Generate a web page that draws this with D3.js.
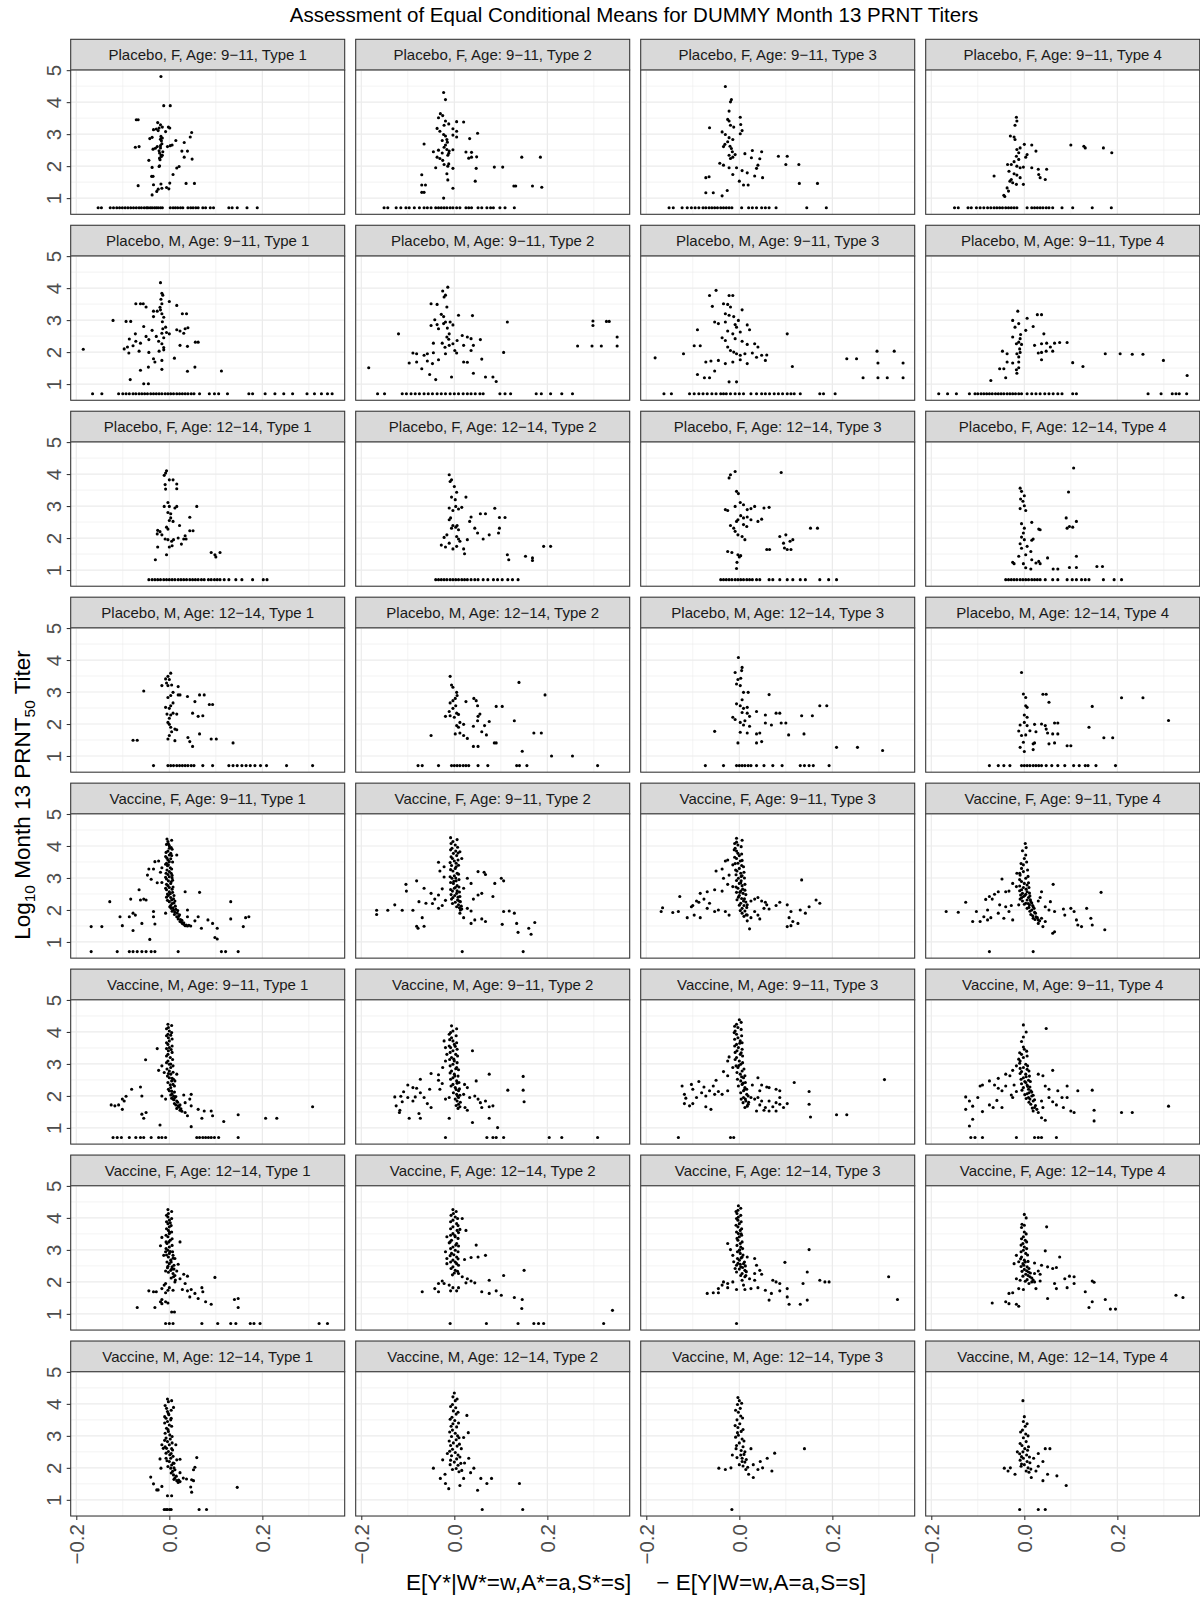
<!DOCTYPE html>
<html><head><meta charset="utf-8">
<script src="https://cdn.jsdelivr.net/npm/d3@7"></script>
<style>body{margin:0;background:#fff} text{font-family:"Liberation Sans",Arial,Helvetica,sans-serif}</style>
</head><body><svg id="chart" width="1200" height="1598"></svg>
<script>
const titleText = "Assessment of Equal Conditional Means for DUMMY Month 13 PRNT Titers";
const xTitleText = "E[Y*|W*=w,A*=a,S*=s]    \u2212 E[Y|W=w,A=a,S=s]";
const groupLabels = ["Placebo, F, Age: 9\u221211","Placebo, M, Age: 9\u221211","Placebo, F, Age: 12\u221214","Placebo, M, Age: 12\u221214","Vaccine, F, Age: 9\u221211","Vaccine, M, Age: 9\u221211","Vaccine, F, Age: 12\u221214","Vaccine, M, Age: 12\u221214"];
const typeLabels = ["Type 1","Type 2","Type 3","Type 4"];
const xTicks = [-0.2, 0, 0.2];
const xMinor = [-0.1, 0.1, 0.3];
const yTicks = [1, 2, 3, 4, 5];
const yMinor = [1.5, 2.5, 3.5, 4.5];
const lloq = 0.699;
const xDomain = [-0.212, 0.377];
const yDomain = [0.494, 5.005];

// ---- Row 1: Placebo, F, 9-11 ----
const r1c1 = [[-0.018,4.80],[-0.012,3.89],[0.002,3.89],[-0.071,3.45],[-0.067,3.45],[-0.025,3.36],[-0.019,3.29],[-0.015,3.22],[-0.022,3.19],[-0.028,3.16],[-0.034,3.14],[-0.024,3.11],[-0.008,3.08],[0.001,3.19],[-0.002,3.22],[-0.042,2.86],[-0.037,2.90],[-0.018,2.93],[-0.019,2.84],[-0.015,2.88],[-0.017,2.79],[0.048,3.05],[0.045,2.91],[0.014,2.80],[0.032,2.74],[-0.073,2.59],[-0.065,2.61],[-0.035,2.53],[-0.030,2.56],[-0.026,2.61],[-0.019,2.64],[-0.022,2.48],[-0.004,2.61],[0.002,2.64],[0.006,2.66],[-0.021,2.41],[-0.018,2.35],[-0.017,2.30],[-0.021,2.25],[-0.015,2.34],[0.027,2.47],[0.039,2.47],[0.032,2.28],[0.049,2.22],[-0.044,2.18],[-0.037,1.96],[-0.021,2.01],[-0.022,1.99],[0.016,1.94],[0.021,1.99],[0.008,1.74],[-0.038,1.68],[-0.035,1.68],[-0.067,1.39],[-0.034,1.42],[-0.018,1.44],[0.001,1.47],[0.036,1.46],[0.054,1.46],[-0.016,1.31],[-0.024,1.28],[-0.027,1.21],[-0.037,1.10],[-0.006,1.33],[-0.001,1.29],[-0.016,2.70],[-0.019,2.57],[-0.014,2.45],[-0.020,2.20]];
const r1c1Lloq = [-0.153,-0.146,-0.127,-0.120,-0.113,-0.107,-0.101,-0.095,-0.089,-0.083,-0.077,-0.071,-0.065,-0.060,-0.054,-0.049,-0.046,-0.041,-0.037,-0.032,-0.028,-0.024,-0.019,-0.015,0.002,0.008,0.013,0.018,0.024,0.029,0.040,0.046,0.051,0.057,0.062,0.072,0.078,0.088,0.095,0.128,0.135,0.146,0.167,0.189];
const r1c2 = [[-0.023,4.30],[-0.019,4.08],[-0.030,3.64],[-0.025,3.58],[-0.034,3.51],[0.005,3.39],[0.020,3.38],[-0.019,3.41],[-0.022,3.28],[-0.012,3.32],[-0.037,3.18],[-0.031,3.09],[-0.003,3.17],[0.005,3.09],[0.050,3.03],[0.033,2.86],[-0.023,2.99],[-0.019,2.94],[-0.026,2.80],[-0.016,2.83],[-0.003,2.97],[0.005,2.91],[-0.065,2.69],[-0.019,2.66],[-0.022,2.59],[-0.016,2.52],[-0.034,2.50],[-0.011,2.47],[-0.003,2.51],[-0.045,2.45],[-0.026,2.41],[-0.014,2.34],[-0.037,2.28],[-0.031,2.24],[-0.025,2.18],[0.025,2.44],[0.037,2.43],[0.037,2.28],[0.031,2.25],[0.048,2.29],[0.145,2.28],[0.185,2.28],[-0.040,1.95],[-0.022,2.05],[-0.012,2.07],[-0.003,1.93],[-0.014,2.00],[0.047,1.93],[0.086,1.97],[0.104,1.97],[-0.070,1.73],[-0.016,1.76],[-0.070,1.41],[-0.062,1.41],[0.045,1.53],[-0.014,1.57],[-0.003,1.31],[0.128,1.38],[0.132,1.38],[0.168,1.38],[0.188,1.34],[-0.070,1.18],[-0.065,1.18],[-0.023,1.00],[-0.015,2.75],[-0.012,2.40]];
const r1c2Lloq = [-0.151,-0.143,-0.125,-0.115,-0.104,-0.097,-0.086,-0.075,-0.065,-0.058,-0.050,-0.040,-0.034,-0.028,-0.022,-0.016,-0.009,-0.003,0.005,0.012,0.025,0.031,0.037,0.051,0.059,0.070,0.078,0.084,0.098,0.109,0.129];
const r1c3 = [[-0.030,4.49],[-0.017,4.08],[-0.019,4.01],[-0.022,3.72],[-0.025,3.46],[-0.022,3.41],[0.002,3.53],[-0.064,3.20],[-0.019,3.28],[-0.012,3.22],[-0.037,3.07],[-0.030,2.99],[-0.022,2.89],[-0.014,2.83],[-0.025,2.76],[-0.031,2.68],[-0.034,2.61],[0.003,3.30],[0.006,3.11],[0.002,3.01],[-0.022,2.34],[-0.014,2.28],[-0.019,2.24],[-0.009,2.36],[0.028,2.49],[0.048,2.45],[0.012,2.39],[0.026,2.26],[0.044,2.23],[0.084,2.31],[0.103,2.31],[0.100,2.05],[0.128,2.05],[-0.042,2.09],[-0.034,2.03],[-0.022,1.95],[-0.006,1.95],[0.006,1.86],[0.017,1.79],[-0.014,1.74],[0.037,1.93],[0.040,2.03],[0.033,1.69],[0.050,1.64],[-0.072,1.64],[-0.065,1.67],[0.000,1.53],[0.009,1.41],[0.019,1.41],[0.129,1.46],[0.168,1.46],[-0.072,1.17],[-0.056,1.17],[-0.037,1.07],[-0.026,1.24],[-0.017,2.55],[-0.020,2.62],[-0.015,2.45]];
const r1c3Lloq = [-0.151,-0.142,-0.123,-0.112,-0.103,-0.095,-0.087,-0.078,-0.072,-0.065,-0.059,-0.053,-0.047,-0.040,-0.034,-0.028,-0.022,-0.016,0.005,0.020,0.028,0.037,0.048,0.056,0.064,0.079,0.145,0.187];
const r1c4 = [[-0.017,3.53],[-0.016,3.41],[-0.020,3.28],[-0.030,2.94],[-0.022,2.91],[-0.020,2.83],[0.000,2.68],[-0.009,2.57],[-0.016,2.52],[-0.012,2.42],[-0.017,2.31],[-0.012,2.21],[-0.022,2.14],[-0.028,2.05],[-0.016,2.00],[-0.009,1.95],[-0.002,1.97],[0.016,2.66],[0.025,2.47],[0.006,2.36],[0.003,2.28],[0.100,2.66],[0.128,2.62],[0.131,2.57],[0.170,2.57],[0.188,2.42],[-0.036,2.05],[-0.033,1.84],[-0.022,1.76],[-0.016,1.72],[-0.009,1.64],[-0.028,1.58],[-0.017,1.43],[-0.002,1.43],[0.016,1.95],[0.030,1.90],[0.048,1.90],[0.031,1.74],[0.034,1.64],[0.045,1.58],[-0.065,1.69],[-0.031,1.53],[-0.025,1.48],[-0.037,1.32],[-0.034,1.22],[-0.044,1.09],[-0.042,1.05]];
const r1c4Lloq = [-0.150,-0.142,-0.121,-0.114,-0.103,-0.095,-0.087,-0.079,-0.072,-0.065,-0.059,-0.053,-0.047,-0.040,-0.034,-0.028,-0.022,-0.016,0.006,0.016,0.022,0.028,0.034,0.040,0.047,0.053,0.061,0.081,0.104,0.146,0.187];

// ---- Row 2: Placebo, M, 9-11 ----
const r2c1 = [[-0.019,4.17],[-0.016,3.84],[-0.014,3.78],[-0.072,3.51],[-0.062,3.51],[-0.056,3.51],[-0.050,3.41],[-0.016,3.51],[0.000,3.58],[0.016,3.46],[-0.019,3.32],[-0.034,3.28],[-0.026,3.28],[-0.016,3.20],[-0.012,3.09],[-0.034,3.11],[0.028,3.20],[0.037,3.20],[-0.121,2.99],[-0.093,2.96],[-0.083,2.96],[-0.055,2.80],[-0.037,2.68],[-0.073,2.57],[-0.050,2.49],[-0.028,2.49],[-0.016,2.59],[-0.014,2.73],[-0.008,2.78],[0.016,2.70],[0.023,2.66],[0.034,2.73],[0.040,2.76],[0.031,2.59],[0.000,2.57],[-0.006,2.61],[-0.086,2.41],[-0.072,2.34],[-0.062,2.28],[-0.097,2.10],[-0.090,2.16],[-0.078,2.20],[-0.044,2.39],[-0.023,2.34],[-0.016,2.26],[-0.012,2.14],[-0.012,2.07],[0.039,2.18],[0.062,2.31],[0.056,2.31],[0.023,2.21],[-0.185,2.09],[-0.087,1.97],[-0.065,2.03],[-0.044,1.99],[-0.022,2.03],[-0.034,1.79],[-0.031,1.69],[-0.016,1.74],[0.011,1.81],[-0.062,1.43],[-0.045,1.53],[-0.016,1.46],[0.039,1.40],[0.055,1.53],[0.112,1.41],[-0.084,1.14],[-0.055,1.01],[-0.045,1.01],[-0.018,3.65],[-0.015,2.95],[-0.012,2.45],[-0.020,3.40]];
const r2c1Lloq = [-0.165,-0.145,-0.109,-0.100,-0.093,-0.086,-0.078,-0.072,-0.065,-0.059,-0.053,-0.047,-0.040,-0.034,-0.028,-0.022,-0.016,-0.009,-0.003,0.003,0.009,0.016,0.022,0.028,0.034,0.040,0.047,0.053,0.065,0.086,0.097,0.106,0.125,0.171,0.179,0.206,0.227,0.246,0.265,0.296,0.312,0.327,0.340,0.350];
const r2c2 = [[-0.014,4.03],[-0.025,3.91],[-0.019,3.78],[-0.022,3.72],[-0.050,3.51],[-0.037,3.49],[-0.016,3.41],[-0.028,3.18],[-0.023,3.11],[0.009,3.15],[0.039,3.14],[-0.042,3.01],[-0.050,2.83],[-0.037,2.86],[-0.023,2.89],[-0.019,2.94],[-0.034,2.73],[-0.009,2.94],[-0.003,2.85],[0.114,2.94],[0.298,2.97],[0.298,2.83],[0.327,2.96],[0.333,2.96],[-0.120,2.57],[-0.011,2.57],[-0.016,2.47],[0.017,2.52],[0.028,2.47],[0.036,2.42],[0.006,2.36],[0.056,2.39],[-0.045,2.28],[-0.026,2.28],[-0.011,2.21],[-0.003,2.26],[0.020,2.21],[0.041,2.21],[0.265,2.19],[0.296,2.19],[0.316,2.19],[0.350,2.19],[0.350,2.47],[-0.089,1.97],[-0.081,1.95],[-0.065,1.90],[-0.058,1.95],[-0.019,1.95],[0.005,1.97],[0.036,2.05],[0.106,1.99],[-0.097,1.66],[-0.081,1.69],[-0.070,1.48],[-0.058,1.72],[-0.047,1.64],[-0.034,1.76],[0.020,1.69],[0.028,1.68],[0.059,1.78],[-0.184,1.51],[-0.053,1.30],[-0.040,1.14],[-0.006,1.22],[0.041,1.34],[0.067,1.22],[0.083,1.22],[0.090,1.08],[-0.015,2.75],[-0.012,2.40],[0.001,2.05],[-0.020,2.15],[-0.045,1.98]];
const r2c2Lloq = [-0.165,-0.150,-0.112,-0.103,-0.093,-0.084,-0.075,-0.065,-0.056,-0.047,-0.037,-0.028,-0.019,-0.009,0.000,0.009,0.019,0.028,0.036,0.045,0.055,0.062,0.098,0.109,0.121,0.176,0.187,0.207,0.231,0.254];
const r2c3 = [[-0.050,3.93],[-0.064,3.77],[-0.022,3.77],[-0.014,3.77],[-0.034,3.51],[-0.025,3.49],[-0.058,3.43],[-0.019,3.41],[0.006,3.32],[-0.030,3.20],[-0.022,3.15],[-0.012,3.11],[-0.002,2.99],[-0.053,2.94],[-0.045,2.89],[-0.030,2.94],[-0.009,2.86],[0.017,2.85],[-0.006,2.78],[-0.090,2.70],[-0.025,2.66],[-0.014,2.57],[0.002,2.63],[0.022,2.70],[0.103,2.57],[-0.037,2.45],[-0.030,2.36],[-0.009,2.42],[0.006,2.34],[0.017,2.24],[0.033,2.26],[0.040,2.16],[-0.097,2.20],[-0.084,2.20],[-0.025,2.16],[-0.019,2.05],[-0.012,2.00],[-0.006,1.95],[0.002,1.90],[0.012,1.95],[0.028,1.97],[0.037,1.84],[0.048,1.90],[0.059,1.91],[-0.120,1.95],[-0.181,1.82],[-0.072,1.69],[-0.061,1.72],[-0.045,1.74],[-0.030,1.64],[-0.014,1.69],[0.002,1.76],[0.017,1.64],[0.056,1.74],[0.231,1.79],[0.252,1.79],[0.296,2.03],[0.333,2.03],[0.298,1.66],[0.352,1.66],[0.114,1.55],[-0.053,1.41],[-0.090,1.30],[-0.075,1.20],[-0.064,1.20],[-0.022,1.07],[-0.006,1.07],[0.266,1.20],[0.298,1.20],[0.318,1.20],[0.352,1.20]];
const r2c3Lloq = [-0.162,-0.146,-0.107,-0.097,-0.087,-0.078,-0.069,-0.059,-0.050,-0.040,-0.034,-0.028,-0.019,-0.009,0.000,0.009,0.025,0.037,0.048,0.056,0.065,0.075,0.084,0.093,0.103,0.111,0.118,0.131,0.173,0.181,0.206];
const r2c4 = [[-0.014,3.28],[0.028,3.17],[0.037,3.17],[0.006,3.06],[-0.025,2.99],[-0.012,2.89],[-0.020,2.78],[0.019,2.80],[0.003,2.68],[0.042,2.57],[-0.025,2.47],[-0.009,2.42],[-0.012,2.31],[-0.017,2.26],[-0.006,2.24],[0.022,2.21],[0.037,2.26],[0.048,2.28],[0.065,2.28],[0.076,2.30],[0.092,2.30],[0.056,2.16],[0.047,2.03],[0.030,1.97],[0.037,1.99],[0.061,2.03],[-0.047,2.03],[-0.037,1.95],[-0.016,1.95],[-0.009,1.99],[0.174,1.95],[0.206,1.95],[0.232,1.93],[0.255,1.93],[0.299,1.74],[0.037,1.76],[-0.037,1.69],[-0.025,1.66],[-0.012,1.69],[0.104,1.67],[0.126,1.55],[-0.053,1.48],[-0.044,1.48],[-0.017,1.45],[-0.016,1.34],[-0.012,1.51],[-0.040,1.20],[-0.072,1.11],[0.350,1.27],[-0.010,2.10],[-0.012,1.85],[-0.008,2.55]];
const r2c4Lloq = [-0.184,-0.165,-0.146,-0.118,-0.106,-0.100,-0.093,-0.087,-0.081,-0.075,-0.069,-0.062,-0.056,-0.050,-0.044,-0.037,-0.031,-0.025,-0.019,-0.012,-0.006,0.006,0.016,0.025,0.034,0.044,0.053,0.062,0.072,0.081,0.104,0.112,0.266,0.294,0.318,0.326,0.333,0.349];

// ---- Row 3: Placebo, F, 12-14 ----
const r3c1 = [[-0.006,4.10],[-0.008,4.03],[-0.011,3.96],[0.000,3.82],[0.008,3.82],[-0.009,3.67],[-0.008,3.53],[0.016,3.69],[0.016,3.54],[-0.003,3.11],[-0.011,2.99],[0.000,2.99],[0.012,2.94],[0.016,2.99],[0.059,2.99],[-0.003,2.80],[0.003,2.76],[0.003,2.63],[0.000,2.55],[0.008,2.52],[0.044,2.65],[0.022,2.39],[-0.006,2.34],[-0.003,2.28],[-0.025,2.24],[-0.020,2.20],[-0.026,2.13],[-0.016,2.10],[0.034,2.07],[0.044,2.23],[0.051,2.23],[-0.009,1.97],[-0.003,1.95],[0.009,1.95],[0.019,2.00],[0.031,1.97],[0.036,1.97],[0.005,1.90],[0.026,1.81],[-0.025,1.72],[0.000,1.72],[0.006,1.76],[-0.006,1.48],[-0.030,1.32],[0.090,1.55],[0.098,1.48],[0.109,1.55],[0.100,1.41]];
const r3c1Lloq = [-0.044,-0.037,-0.031,-0.025,-0.019,-0.012,-0.006,0.000,0.006,0.012,0.019,0.025,0.031,0.037,0.044,0.050,0.056,0.062,0.069,0.075,0.084,0.090,0.097,0.103,0.109,0.118,0.128,0.143,0.156,0.179,0.202,0.210];
const r3c2 = [[-0.011,3.98],[-0.006,3.82],[-0.009,3.77],[0.000,3.61],[0.005,3.43],[-0.006,3.28],[0.002,3.20],[0.025,3.28],[-0.011,2.94],[-0.003,2.86],[0.003,2.99],[0.009,2.91],[0.016,2.96],[0.056,2.76],[0.067,2.76],[0.087,2.93],[0.097,2.64],[0.109,2.64],[-0.008,2.63],[-0.011,2.57],[-0.003,2.39],[0.003,2.34],[-0.006,2.31],[0.009,2.26],[0.006,2.39],[0.036,2.66],[0.033,2.52],[0.044,2.31],[0.050,2.16],[0.062,1.97],[0.097,2.31],[0.095,2.16],[0.075,2.10],[0.028,1.95],[-0.022,2.02],[-0.016,2.10],[0.005,2.05],[0.009,1.97],[0.012,1.90],[-0.011,1.84],[-0.028,1.78],[-0.019,1.72],[-0.003,1.66],[0.005,1.74],[0.020,1.66],[0.022,1.51],[0.114,1.48],[0.117,1.32],[0.153,1.43],[0.168,1.38],[0.168,1.30],[0.192,1.74],[0.207,1.74]];
const r3c2Lloq = [-0.040,-0.034,-0.028,-0.022,-0.016,-0.009,-0.003,0.003,0.009,0.016,0.022,0.028,0.036,0.044,0.051,0.062,0.072,0.084,0.093,0.103,0.115,0.125,0.137];
const r3c3 = [[-0.009,4.08],[-0.019,3.98],[-0.022,3.88],[0.090,4.05],[-0.006,3.46],[-0.002,3.39],[0.002,3.11],[0.009,3.04],[-0.009,2.99],[-0.030,2.89],[-0.025,2.86],[0.017,2.89],[0.025,2.92],[0.053,2.94],[0.064,2.96],[0.033,2.99],[0.003,2.70],[0.009,2.63],[0.017,2.66],[-0.003,2.57],[-0.006,2.52],[0.025,2.57],[0.040,2.52],[0.048,2.59],[-0.019,2.39],[-0.012,2.31],[0.009,2.42],[0.016,2.36],[-0.009,2.21],[-0.003,2.10],[0.006,2.05],[0.012,1.95],[0.153,2.31],[0.168,2.31],[0.087,2.05],[0.100,2.10],[0.095,1.84],[0.109,1.90],[0.115,1.95],[0.097,1.69],[0.103,1.64],[0.111,1.64],[0.059,1.64],[0.065,1.64],[-0.025,1.58],[-0.016,1.55],[-0.003,1.48],[0.000,1.41],[0.003,1.45],[-0.005,1.24],[-0.006,1.05]];
const r3c3Lloq = [-0.040,-0.034,-0.028,-0.022,-0.016,-0.009,-0.003,0.003,0.009,0.016,0.022,0.028,0.037,0.044,0.064,0.072,0.087,0.103,0.115,0.131,0.142,0.173,0.192,0.209];
const r3c4 = [[0.106,4.19],[-0.009,3.56],[-0.006,3.46],[0.000,3.32],[-0.008,3.22],[-0.003,3.15],[0.095,3.44],[0.000,3.01],[-0.009,2.92],[0.003,2.86],[0.090,2.63],[0.097,2.36],[0.104,2.34],[0.112,2.52],[0.092,2.31],[-0.006,2.45],[0.000,2.31],[0.016,2.49],[0.031,2.28],[0.034,2.26],[-0.002,2.16],[-0.006,2.03],[0.000,1.95],[0.016,1.93],[0.019,1.97],[-0.009,1.82],[-0.006,1.68],[0.006,1.74],[0.014,1.58],[0.003,1.48],[-0.012,1.43],[0.112,1.43],[-0.025,1.24],[-0.022,1.20],[-0.002,1.20],[0.016,1.32],[0.025,1.22],[0.031,1.27],[0.034,1.20],[0.050,1.38],[0.062,1.03],[0.072,1.03],[0.097,1.08],[0.112,1.08],[0.156,1.11],[0.168,1.11],[0.003,1.07],[0.014,1.03]];
const r3c4Lloq = [-0.040,-0.034,-0.028,-0.022,-0.016,-0.009,-0.003,0.003,0.009,0.016,0.022,0.028,0.034,0.045,0.061,0.072,0.092,0.103,0.112,0.123,0.131,0.139,0.170,0.193,0.209];

// ---- Row 4: Placebo, M, 12-14 ----
const r4c1 = [[0.003,3.59],[-0.003,3.49],[-0.008,3.41],[0.000,3.39],[-0.006,3.28],[-0.003,3.20],[-0.016,3.20],[0.005,3.22],[0.019,3.17],[-0.055,3.03],[0.008,2.99],[0.003,2.89],[-0.003,2.83],[0.019,2.91],[0.023,2.91],[0.039,2.86],[0.065,2.91],[0.075,2.91],[0.055,2.70],[0.086,2.61],[0.093,2.61],[0.008,2.66],[0.003,2.57],[-0.008,2.52],[0.000,2.49],[-0.005,2.31],[0.003,2.28],[0.016,2.31],[0.008,2.34],[0.050,2.34],[0.062,2.24],[0.072,2.26],[0.000,2.18],[-0.003,2.05],[0.000,1.99],[0.003,1.90],[0.012,1.84],[0.016,1.82],[0.005,1.76],[0.000,1.64],[-0.078,1.49],[-0.069,1.49],[-0.003,1.53],[0.012,1.48],[0.040,1.58],[0.044,1.45],[0.065,1.69],[0.090,1.53],[0.101,1.53],[0.050,1.30],[0.137,1.41]];
const r4c1Lloq = [-0.034,-0.003,0.003,0.009,0.016,0.022,0.028,0.034,0.040,0.047,0.053,0.072,0.093,0.128,0.137,0.146,0.156,0.165,0.174,0.184,0.196,0.209,0.252,0.308];
const r4c2 = [[-0.009,3.49],[0.139,3.30],[-0.006,3.22],[-0.003,3.15],[0.005,2.99],[0.006,2.89],[0.002,2.80],[-0.003,2.73],[-0.009,2.66],[0.003,2.57],[0.042,2.80],[0.047,2.73],[0.050,2.57],[0.025,2.70],[0.090,2.55],[0.103,2.55],[0.195,2.91],[-0.003,2.49],[-0.011,2.39],[0.005,2.34],[0.009,2.30],[-0.019,2.24],[-0.009,2.26],[0.000,2.21],[0.055,2.31],[0.051,2.24],[0.012,2.05],[0.020,1.99],[0.005,1.95],[0.009,1.90],[0.041,1.93],[0.065,1.95],[0.075,2.08],[0.050,2.10],[0.129,2.10],[-0.050,1.64],[0.002,1.69],[0.012,1.72],[0.020,1.64],[0.059,1.76],[0.069,1.66],[0.028,1.55],[0.171,1.72],[0.187,1.72],[0.041,1.30],[0.051,1.30],[0.086,1.41],[0.090,1.41],[0.146,1.15],[0.209,1.00],[0.254,1.00]];
const r4c2Lloq = [-0.078,-0.069,-0.034,-0.006,0.000,0.006,0.012,0.019,0.025,0.031,0.051,0.072,0.134,0.140,0.156,0.308];
const r4c3 = [[-0.002,4.08],[-0.009,3.61],[0.005,3.67],[0.006,3.77],[-0.003,3.39],[0.003,3.43],[-0.006,3.25],[0.002,3.20],[0.009,2.99],[0.019,2.99],[0.064,2.92],[0.006,2.76],[-0.006,2.63],[0.002,2.57],[0.009,2.49],[0.017,2.52],[0.037,2.39],[0.006,2.36],[0.017,2.34],[0.173,2.57],[0.188,2.57],[-0.014,2.21],[-0.009,2.14],[0.002,2.05],[0.012,2.10],[0.022,2.24],[0.056,2.28],[0.079,2.34],[0.087,2.34],[0.134,2.26],[0.157,2.26],[0.009,1.97],[0.022,1.93],[0.056,2.03],[0.069,1.97],[0.090,2.03],[0.100,2.03],[0.002,1.74],[0.017,1.72],[0.037,1.69],[0.044,1.72],[0.106,1.66],[0.139,1.69],[-0.053,1.77],[-0.003,1.41],[0.037,1.41],[0.048,1.45],[0.209,1.27],[0.254,1.27],[0.308,1.17]];
const r4c3Lloq = [-0.073,-0.034,-0.006,0.000,0.006,0.012,0.019,0.025,0.037,0.053,0.072,0.092,0.131,0.140,0.150,0.159,0.193];
const r4c4 = [[-0.006,3.61],[-0.002,2.94],[0.040,2.93],[0.047,2.93],[0.053,2.68],[0.003,2.83],[0.209,2.82],[0.255,2.82],[0.146,2.55],[0.310,2.11],[0.003,2.57],[0.006,2.52],[0.000,2.28],[0.006,2.21],[0.000,2.05],[-0.009,1.97],[0.006,1.95],[0.022,1.99],[0.037,2.00],[0.045,1.95],[0.065,2.03],[0.072,2.03],[-0.012,1.78],[-0.006,1.64],[0.003,1.66],[0.012,1.79],[0.025,1.76],[0.047,1.84],[0.050,1.72],[0.061,1.69],[0.072,1.69],[0.139,1.90],[0.171,1.57],[0.190,1.57],[-0.002,1.43],[0.019,1.38],[0.022,1.41],[0.053,1.38],[0.065,1.41],[0.092,1.32],[0.100,1.32],[-0.009,1.27],[0.000,1.14],[0.019,1.20]];
const r4c4Lloq = [-0.075,-0.056,-0.044,-0.031,-0.006,0.000,0.006,0.012,0.019,0.025,0.031,0.037,0.047,0.059,0.072,0.087,0.106,0.118,0.131,0.137,0.154,0.196];

// ---- Row 5: Vaccine, F, 9-11 ----
const r5c1 = [[-0.005,4.22],[-0.003,4.14],[-0.002,4.07],[0.000,4.01],[0.000,3.93],[-0.003,3.84],[0.003,3.77],[0.000,3.72],[-0.008,3.67],[-0.003,3.56],[0.000,3.51],[-0.006,3.46],[-0.002,3.41],[0.002,3.32],[-0.005,3.25],[0.000,3.20],[-0.003,3.11],[0.000,3.04],[-0.006,2.97],[-0.002,2.91],[0.003,2.83],[-0.003,2.76],[0.000,2.70],[-0.006,2.63],[0.000,2.57],[0.002,2.51],[-0.002,2.45],[0.003,2.39],[0.005,2.31],[0.000,2.26],[0.006,2.20],[0.003,2.14],[0.008,2.07],[0.009,2.00],[0.012,1.93],[0.011,1.86],[0.016,1.79],[0.019,1.72],[0.023,1.64],[0.031,1.55],[0.034,1.51],[0.039,1.50],[0.004,3.95],[0.003,3.60],[-0.004,3.38],[0.004,3.15],[0.006,3.00],[0.004,2.88],[0.006,2.65],[-0.004,2.50],[0.009,2.35],[0.010,2.22],[0.013,2.12],[0.004,2.05],[0.018,1.98],[0.022,1.85],[0.026,1.62],[0.028,1.58],[0.036,1.53],[0.042,1.52],[-0.031,3.51],[-0.023,3.53],[-0.034,3.28],[-0.044,3.28],[-0.016,3.32],[-0.019,3.18],[-0.047,3.09],[-0.026,2.85],[-0.039,2.96],[-0.016,2.86],[0.016,3.72],[0.034,2.57],[0.065,2.55],[-0.065,2.63],[-0.062,2.31],[-0.128,2.26],[-0.083,2.34],[-0.055,2.34],[-0.050,2.31],[-0.078,1.90],[-0.073,1.84],[-0.106,1.79],[-0.086,1.79],[-0.101,1.51],[-0.078,1.36],[-0.034,1.95],[-0.031,1.56],[-0.008,1.90],[0.039,2.00],[0.039,1.79],[0.055,1.66],[0.062,1.79],[0.069,1.43],[0.083,1.69],[0.093,1.58],[0.103,1.43],[0.132,2.26],[0.132,1.72],[0.159,1.48],[0.164,1.76],[0.171,1.79],[-0.168,1.48],[-0.145,1.48],[-0.042,1.08],[0.098,1.14],[0.103,1.09],[-0.034,1.79],[-0.059,1.58]];
const r5c1Band = [[0.005,4.18],[-0.006,4.05],[0.006,3.90],[-0.007,3.80],[0.005,3.70],[-0.005,3.62],[0.007,3.50],[-0.008,3.43],[0.005,3.28],[-0.007,3.15],[0.006,3.08],[-0.008,3.02],[0.007,2.93],[-0.006,2.80],[0.008,2.72],[-0.008,2.68],[0.007,2.55],[-0.006,2.40],[0.010,2.45],[-0.004,2.30],[0.012,2.28],[0.001,2.10],[0.014,2.02],[0.006,1.96],[0.017,1.90],[0.020,1.80],[0.024,1.70],[0.027,1.68],[0.031,1.60],[0.046,1.50]];
const r5c1Lloq = [-0.168,-0.112,-0.086,-0.078,-0.069,-0.059,-0.050,-0.039,-0.031,0.019,0.112,0.121,0.148];
const r5c2 = [[-0.008,4.26],[-0.003,4.14],[0.002,4.03],[-0.005,3.93],[0.003,3.84],[-0.002,3.77],[0.005,3.70],[-0.004,3.61],[0.000,3.53],[0.004,3.46],[-0.006,3.39],[0.002,3.30],[-0.003,3.22],[0.006,3.15],[0.000,3.07],[-0.005,2.99],[0.004,2.91],[-0.002,2.83],[0.006,2.76],[0.000,2.68],[-0.004,2.59],[0.005,2.52],[0.001,2.45],[-0.003,2.39],[0.007,2.31],[0.002,2.24],[0.009,2.16],[0.011,2.07],[0.013,2.00],[0.003,3.00],[0.006,2.60],[-0.001,2.90],[0.004,3.35],[0.008,2.40],[0.002,2.70],[0.010,2.28],[-0.034,3.49],[-0.022,3.35],[0.012,3.82],[0.016,3.61],[-0.031,3.22],[-0.022,3.03],[0.028,2.99],[0.036,2.83],[0.020,2.68],[0.087,2.83],[0.101,2.99],[0.106,2.91],[0.064,3.18],[-0.081,2.91],[-0.104,2.80],[-0.103,2.59],[-0.065,2.68],[-0.050,2.52],[-0.034,2.47],[-0.026,2.66],[-0.042,2.34],[-0.019,2.30],[-0.076,2.26],[-0.061,2.21],[-0.047,2.20],[-0.026,2.14],[-0.034,2.05],[-0.089,1.99],[-0.112,1.99],[-0.143,1.99],[-0.167,1.99],[-0.167,1.86],[-0.128,2.16],[-0.069,1.76],[-0.081,1.49],[-0.065,1.49],[-0.078,1.43],[0.028,2.05],[0.036,1.97],[0.012,1.90],[0.020,1.76],[0.041,2.34],[0.051,2.47],[0.059,2.52],[0.083,2.42],[0.044,1.69],[0.036,1.58],[0.059,1.72],[0.067,1.64],[0.106,1.95],[0.118,1.97],[0.129,1.90],[0.103,1.55],[0.134,1.58],[0.160,1.43],[0.173,1.61],[0.137,1.30],[0.165,1.24],[0.051,3.20],[0.067,3.11]];
const r5c2Band = [[0.006,4.20],[-0.007,4.08],[0.007,3.96],[-0.008,3.88],[0.008,3.78],[-0.007,3.66],[0.008,3.56],[-0.009,3.48],[0.009,3.40],[-0.008,3.26],[0.009,3.12],[-0.009,3.04],[0.010,2.95],[-0.008,2.86],[0.010,2.72],[-0.008,2.64],[0.011,2.56],[-0.007,2.48],[0.012,2.42],[-0.006,2.34],[0.013,2.26],[-0.004,2.20],[0.015,2.12],[0.005,2.10],[0.016,2.03]];
const r5c2Lloq = [0.017,0.148];
const r5c3 = [[-0.006,4.24],[-0.006,4.12],[-0.003,4.03],[-0.009,3.93],[-0.006,3.84],[-0.003,3.77],[0.000,3.70],[-0.006,3.61],[0.002,3.53],[-0.003,3.46],[0.005,3.39],[0.000,3.30],[-0.005,3.22],[0.003,3.15],[0.006,3.07],[-0.002,2.99],[0.004,2.91],[0.000,2.83],[0.006,2.76],[-0.003,2.68],[0.003,2.59],[0.008,2.52],[0.000,2.45],[0.005,2.36],[0.009,2.28],[0.003,2.21],[0.010,2.14],[0.006,2.05],[0.012,1.97],[0.006,1.90],[0.003,2.85],[0.007,2.65],[0.001,2.55],[-0.002,2.40],[0.011,2.35],[0.004,3.05],[-0.030,3.53],[-0.025,3.56],[-0.014,3.41],[-0.037,3.28],[-0.050,3.22],[-0.022,3.09],[-0.034,2.99],[0.134,2.94],[-0.025,2.80],[-0.014,2.73],[-0.053,2.63],[-0.037,2.59],[-0.069,2.57],[-0.084,2.52],[-0.076,2.34],[-0.092,2.28],[-0.087,2.24],[-0.064,2.21],[-0.128,2.42],[-0.100,2.14],[-0.103,2.10],[-0.131,1.95],[-0.165,2.07],[-0.168,1.95],[-0.143,1.92],[-0.112,1.76],[-0.084,1.76],[-0.097,1.84],[-0.069,2.05],[-0.045,2.00],[-0.053,1.95],[-0.030,1.95],[-0.022,1.84],[0.017,1.84],[0.025,1.76],[0.033,1.95],[0.040,1.84],[0.044,1.72],[0.017,1.66],[0.022,1.41],[0.053,2.05],[0.059,2.16],[0.064,2.03],[0.079,2.14],[0.087,2.24],[0.103,2.16],[0.111,1.95],[0.131,2.00],[0.142,1.90],[0.150,2.10],[0.165,2.31],[0.173,2.21],[0.107,1.76],[0.115,1.64],[0.126,1.58],[0.103,1.48],[0.111,1.51],[0.040,2.39],[0.033,2.34],[0.048,2.28],[0.056,2.24],[0.017,2.16],[0.025,2.28]];
const r5c3Band = [[0.006,4.18],[-0.010,4.08],[0.004,3.98],[-0.011,3.88],[0.005,3.75],[-0.010,3.65],[0.006,3.55],[-0.009,3.45],[0.009,3.35],[-0.008,3.25],[0.010,3.18],[-0.007,3.10],[0.011,3.00],[-0.006,2.92],[0.012,2.80],[-0.007,2.72],[0.012,2.62],[-0.006,2.55],[0.014,2.48],[-0.005,2.32],[0.014,2.25],[0.000,2.15],[0.016,2.08],[0.002,1.98],[0.015,1.85],[0.010,1.80]];
const r5c3Lloq = [];
const r5c4 = [[0.002,4.08],[0.003,3.72],[0.000,3.61],[-0.002,3.41],[-0.006,3.30],[-0.002,3.20],[-0.009,3.09],[0.003,2.99],[-0.006,2.89],[0.000,2.83],[0.006,2.78],[-0.002,2.70],[-0.006,2.63],[0.006,2.57],[0.003,2.49],[-0.002,2.42],[0.009,2.39],[-0.009,2.34],[0.006,2.31],[0.014,2.26],[0.003,2.21],[0.011,2.16],[0.019,2.10],[0.006,2.05],[0.016,2.00],[0.022,1.93],[0.014,1.86],[0.025,1.79],[0.019,1.74],[0.030,1.69],[0.001,2.45],[0.004,2.65],[0.008,2.20],[-0.004,2.52],[-0.048,2.97],[-0.016,3.15],[-0.025,2.83],[-0.017,2.73],[-0.033,2.59],[-0.040,2.57],[-0.056,2.57],[-0.064,2.49],[-0.075,2.42],[-0.069,2.34],[-0.083,2.33],[-0.126,2.24],[-0.053,2.16],[-0.040,2.10],[-0.028,2.14],[-0.012,2.16],[-0.079,2.00],[-0.103,1.95],[-0.168,1.95],[-0.142,1.93],[-0.056,1.90],[-0.033,1.95],[-0.087,1.79],[-0.072,1.76],[-0.044,1.74],[-0.111,1.64],[-0.095,1.64],[-0.079,1.69],[-0.025,1.69],[0.037,2.57],[0.034,2.39],[0.030,2.28],[0.056,2.26],[0.062,2.80],[0.045,2.10],[0.053,2.00],[0.065,1.95],[0.084,2.03],[0.100,2.05],[0.107,1.95],[0.134,2.05],[0.165,2.55],[0.087,1.84],[0.112,1.69],[0.143,1.74],[0.037,1.74],[0.045,1.64],[0.030,1.58],[0.040,1.48],[0.065,1.32],[0.061,1.27],[0.115,1.53],[0.123,1.48],[0.146,1.53],[0.173,1.38]];
const r5c4Band = [[0.004,3.95],[-0.004,3.85],[0.005,3.50],[-0.007,3.45],[0.007,3.25],[-0.010,3.15],[0.008,3.05],[-0.010,2.95],[0.009,2.85],[-0.010,2.75],[0.010,2.70],[-0.010,2.60],[0.011,2.53],[-0.008,2.47],[0.012,2.44],[-0.006,2.38],[0.013,2.32],[-0.004,2.28],[0.016,2.22],[0.000,2.18],[0.018,2.14],[0.010,2.08],[0.021,2.05],[0.012,1.96],[0.024,1.90],[0.018,1.82],[0.028,1.76],[0.023,1.70],[0.033,1.66]];
const r5c4Lloq = [-0.075,0.019];

// ---- Row 6: Vaccine, M, 9-11 ----
const r6c1 = [[-0.003,4.24],[-0.002,4.14],[0.000,4.03],[-0.003,3.93],[-0.002,3.82],[0.000,3.72],[-0.003,3.61],[0.000,3.51],[-0.002,3.41],[-0.003,3.30],[0.002,3.20],[-0.003,3.09],[0.000,2.99],[0.003,2.89],[0.000,2.78],[0.003,2.68],[0.000,2.57],[0.005,2.47],[0.008,2.36],[0.003,2.26],[0.000,2.16],[0.006,2.07],[0.009,2.00],[0.012,1.95],[0.008,1.90],[0.016,1.84],[0.011,1.76],[0.019,1.69],[0.016,1.61],[0.023,1.55],[0.004,3.45],[0.003,3.00],[0.006,2.55],[0.002,2.35],[0.005,2.15],[0.010,1.88],[-0.002,2.70],[0.003,3.90],[-0.026,3.48],[-0.051,3.13],[-0.023,2.80],[-0.016,2.94],[-0.011,2.73],[0.016,2.68],[0.012,2.47],[-0.081,2.21],[-0.062,2.28],[-0.093,1.99],[-0.059,2.00],[-0.101,1.90],[-0.097,1.84],[-0.109,1.72],[-0.125,1.72],[-0.117,1.69],[-0.101,1.58],[-0.016,2.00],[-0.008,1.90],[0.031,2.03],[0.047,2.05],[0.044,1.90],[0.034,1.79],[0.023,1.72],[0.047,1.69],[0.062,1.58],[0.034,1.48],[0.039,1.38],[0.075,1.53],[0.090,1.53],[0.093,1.38],[0.070,1.30],[0.117,1.20],[0.148,1.41],[0.207,1.30],[0.231,1.30],[0.308,1.66],[-0.059,1.43],[-0.050,1.48],[-0.055,1.30],[0.047,1.04],[-0.020,1.09]];
const r6c1Band = [[0.005,4.20],[-0.006,4.10],[0.005,3.98],[-0.006,3.88],[0.006,3.78],[-0.006,3.66],[0.006,3.56],[-0.006,3.48],[0.006,3.36],[-0.006,3.25],[0.007,3.14],[-0.006,3.04],[0.008,2.94],[-0.005,2.84],[0.008,2.74],[-0.004,2.62],[0.009,2.52],[-0.003,2.42],[0.011,2.31],[-0.002,2.21],[0.011,2.12],[0.003,2.03],[0.014,1.98],[0.005,1.93],[0.018,1.80],[0.014,1.72],[0.021,1.65],[0.025,1.60],[0.027,1.52]];
const r6c1Lloq = [-0.121,-0.112,-0.103,-0.086,-0.072,-0.062,-0.055,-0.039,-0.023,-0.016,-0.008,0.059,0.065,0.072,0.078,0.084,0.090,0.097,0.106,0.148];
const r6c2 = [[-0.006,4.19],[-0.003,4.03],[-0.011,3.93],[-0.006,3.82],[-0.003,3.72],[0.000,3.61],[-0.008,3.51],[-0.003,3.41],[0.003,3.30],[-0.006,3.20],[0.000,3.09],[-0.003,2.99],[0.005,2.89],[-0.006,2.78],[0.000,2.68],[-0.003,2.57],[0.005,2.47],[-0.003,2.36],[0.002,2.26],[0.009,2.16],[0.005,2.05],[0.009,1.95],[0.006,1.84],[0.009,1.74],[0.008,1.61],[0.002,3.55],[-0.001,3.15],[0.003,2.85],[0.001,2.62],[0.006,2.40],[0.004,2.20],[0.007,2.00],[-0.022,3.72],[-0.019,3.51],[-0.016,3.30],[-0.019,3.09],[-0.025,2.89],[0.039,3.41],[0.075,2.68],[0.148,2.61],[-0.034,2.66],[-0.050,2.70],[-0.073,2.52],[-0.034,2.49],[-0.026,2.39],[-0.100,2.34],[-0.089,2.26],[-0.081,2.24],[-0.053,2.21],[-0.031,2.21],[-0.109,2.13],[-0.073,2.10],[-0.128,1.97],[-0.115,1.99],[-0.100,1.95],[-0.084,1.97],[-0.065,1.95],[-0.112,1.82],[-0.089,1.84],[-0.058,1.76],[-0.125,1.69],[-0.117,1.55],[-0.118,1.48],[-0.097,1.30],[-0.073,1.30],[-0.076,1.45],[-0.050,1.64],[-0.019,1.90],[-0.011,1.95],[0.020,2.05],[0.033,1.95],[0.044,2.00],[0.051,1.90],[0.056,1.79],[0.067,1.84],[0.075,1.66],[0.083,1.69],[0.059,1.64],[0.023,1.64],[0.028,1.55],[0.115,2.18],[0.148,2.18],[0.150,1.82],[0.075,1.30],[0.039,1.17],[0.093,1.01],[-0.011,1.30],[0.022,2.36],[0.028,2.26],[0.047,2.47]];
const r6c2Band = [[0.005,4.10],[-0.008,3.98],[0.004,3.88],[-0.010,3.76],[0.005,3.66],[-0.011,3.56],[0.006,3.46],[-0.009,3.36],[0.007,3.25],[-0.010,3.14],[0.006,3.04],[-0.009,2.94],[0.009,2.82],[-0.009,2.72],[0.008,2.62],[-0.008,2.52],[0.010,2.42],[-0.007,2.31],[0.011,2.22],[-0.002,2.10],[0.012,2.02],[0.002,1.90],[0.013,1.80],[0.004,1.70],[0.012,1.66]];
const r6c2Lloq = [-0.019,0.070,0.083,0.090,0.106,0.204,0.231,0.308];
const r6c3 = [[0.000,4.38],[-0.006,4.24],[-0.003,4.14],[-0.009,4.03],[-0.006,3.93],[-0.003,3.82],[0.002,3.72],[-0.006,3.61],[-0.002,3.51],[-0.005,3.41],[0.002,3.30],[-0.006,3.20],[0.000,3.09],[0.003,2.99],[-0.003,2.89],[0.006,2.78],[0.002,2.68],[0.009,2.57],[0.003,2.47],[0.006,2.36],[0.012,2.26],[0.009,2.16],[0.016,2.05],[0.009,1.95],[0.014,1.84],[0.019,1.74],[0.012,1.64],[0.004,3.35],[-0.001,2.95],[0.005,2.60],[0.008,2.40],[0.011,2.20],[0.013,1.90],[0.001,3.65],[-0.022,3.22],[-0.025,3.09],[-0.014,2.89],[-0.034,2.76],[-0.025,2.63],[-0.050,2.49],[-0.056,2.31],[-0.087,2.45],[-0.103,2.36],[-0.076,2.28],[-0.100,2.21],[-0.123,2.31],[-0.118,2.05],[-0.081,2.10],[-0.064,2.16],[-0.045,2.14],[-0.053,2.05],[-0.072,2.00],[-0.092,1.95],[-0.115,1.93],[-0.118,1.76],[-0.107,1.69],[-0.100,1.76],[-0.072,1.66],[-0.061,1.58],[-0.037,2.05],[-0.025,2.16],[0.040,2.57],[0.048,2.34],[0.059,2.28],[0.064,2.26],[0.044,2.16],[0.079,2.21],[0.087,2.16],[0.118,2.42],[0.150,2.14],[0.150,1.74],[0.153,1.34],[0.209,1.41],[0.231,1.41],[0.312,2.51],[0.025,1.95],[0.033,1.90],[0.040,1.95],[0.048,1.84],[0.064,1.84],[0.079,1.79],[0.087,1.74],[0.044,1.72],[0.056,1.64],[0.072,1.66],[0.037,1.53],[0.053,1.55],[0.064,1.53],[0.079,1.53],[0.095,1.64],[0.103,1.76],[0.087,1.95],[0.028,2.34]];
const r6c3Band = [[0.004,4.30],[-0.010,4.18],[0.004,4.08],[-0.011,3.98],[0.005,3.88],[-0.010,3.77],[0.006,3.66],[-0.010,3.56],[0.006,3.46],[-0.009,3.36],[0.007,3.25],[-0.009,3.14],[0.007,3.04],[-0.007,2.94],[0.010,2.84],[-0.005,2.73],[0.012,2.63],[-0.004,2.52],[0.013,2.42],[-0.002,2.31],[0.016,2.21],[0.003,2.10],[0.019,2.00],[0.004,1.90],[0.020,1.80],[0.008,1.79],[0.017,1.68]];
const r6c3Lloq = [-0.131,-0.019,-0.012];
const r6c4 = [[-0.002,4.22],[0.047,4.11],[-0.002,3.84],[-0.002,3.53],[0.000,3.46],[-0.006,3.30],[-0.002,3.20],[-0.009,3.09],[0.003,2.99],[-0.002,2.89],[0.006,2.83],[-0.006,2.76],[0.003,2.68],[-0.002,2.57],[0.009,2.49],[0.003,2.42],[0.006,2.34],[-0.002,2.26],[0.009,2.21],[0.014,2.16],[0.006,2.07],[0.016,2.00],[0.009,1.95],[0.019,1.84],[0.014,1.74],[0.022,1.64],[0.019,1.53],[0.004,2.60],[0.001,2.45],[0.007,2.30],[0.010,2.10],[0.012,1.90],[-0.025,2.80],[-0.031,2.63],[-0.017,2.94],[-0.012,3.15],[0.061,2.80],[0.030,2.68],[0.040,2.63],[-0.040,2.68],[-0.056,2.55],[-0.064,2.34],[-0.075,2.47],[-0.095,2.31],[-0.090,2.34],[-0.056,2.24],[-0.040,2.31],[-0.022,2.34],[-0.017,2.14],[-0.028,2.03],[-0.048,2.16],[-0.126,1.97],[-0.118,1.84],[-0.100,1.95],[-0.059,1.86],[-0.126,1.58],[-0.111,1.68],[-0.090,1.51],[-0.075,1.72],[-0.067,1.64],[-0.048,1.64],[-0.025,1.95],[0.045,2.31],[0.053,2.21],[0.072,2.16],[0.092,2.31],[0.115,2.16],[0.146,2.18],[0.053,1.95],[0.037,1.84],[0.061,1.82],[0.081,1.95],[0.092,1.95],[0.069,1.72],[0.084,1.64],[0.100,1.53],[0.107,1.48],[0.040,1.64],[0.030,1.48],[0.037,1.32],[0.045,1.24],[0.150,1.55],[0.150,1.22],[0.209,1.48],[0.232,1.48],[0.310,1.68],[-0.118,1.06],[-0.111,1.27]];
const r6c4Band = [[0.004,4.00],[-0.006,3.70],[0.005,3.40],[-0.010,3.35],[0.006,3.25],[-0.010,3.02],[0.007,2.94],[-0.009,2.86],[0.010,2.78],[-0.009,2.70],[0.011,2.62],[-0.007,2.52],[0.013,2.45],[-0.006,2.38],[0.012,2.28],[-0.005,2.18],[0.016,2.12],[0.001,2.04],[0.019,2.02],[0.004,1.92],[0.022,1.88],[0.010,1.80],[0.024,1.70],[0.017,1.62],[0.027,1.58]];
const r6c4Lloq = [-0.115,-0.106,-0.090,-0.017,0.022,0.030,0.037,0.069];

// ---- Row 7: Vaccine, F, 12-14 ----
const r7c1 = [[-0.003,4.26],[-0.002,4.14],[-0.003,4.03],[0.000,3.93],[-0.003,3.82],[0.000,3.72],[-0.002,3.61],[0.000,3.51],[-0.003,3.41],[0.002,3.30],[-0.005,3.20],[0.000,3.09],[-0.003,2.99],[0.000,2.89],[-0.002,2.78],[0.003,2.68],[0.000,2.57],[0.006,2.47],[0.003,2.36],[0.008,2.26],[0.009,2.16],[0.002,3.85],[0.001,3.55],[-0.001,3.25],[0.002,2.95],[0.004,2.62],[0.005,2.40],[-0.016,3.39],[-0.019,3.13],[0.023,3.25],[-0.008,2.94],[-0.012,2.83],[0.008,2.83],[0.012,2.73],[0.019,2.55],[-0.003,2.49],[-0.008,2.34],[0.016,2.34],[0.031,2.24],[0.039,2.18],[0.023,2.10],[0.012,2.00],[0.034,1.95],[-0.008,1.95],[-0.011,1.90],[-0.016,1.79],[0.000,1.82],[0.008,1.74],[0.028,1.76],[0.047,1.76],[0.039,1.72],[0.070,1.82],[0.072,1.69],[0.055,1.64],[0.062,1.48],[0.044,1.53],[0.078,1.38],[0.090,1.30],[-0.044,1.72],[-0.034,1.69],[-0.028,1.69],[-0.003,1.74],[-0.008,1.66],[-0.016,1.45],[-0.019,1.38],[-0.008,1.38],[-0.003,1.34],[-0.016,1.32],[-0.031,1.20],[-0.069,1.20],[0.005,1.06],[0.011,1.06],[0.140,1.45],[0.148,1.48],[0.098,2.14],[0.148,1.20]];
const r7c1Band = [[0.005,4.20],[-0.006,4.08],[0.005,3.98],[-0.006,3.88],[0.004,3.76],[-0.006,3.66],[0.005,3.56],[-0.007,3.46],[0.006,3.35],[-0.007,3.25],[0.006,3.14],[-0.007,3.04],[0.007,2.94],[-0.006,2.84],[0.008,2.74],[-0.005,2.62],[0.010,2.52],[-0.004,2.44],[0.010,2.40],[-0.002,2.30],[0.012,2.20],[0.004,2.12],[0.013,2.06]];
const r7c1Lloq = [-0.008,0.000,0.008,0.070,0.104,0.132,0.143,0.174,0.182,0.195,0.322,0.340];
const r7c2 = [[-0.003,4.26],[-0.002,4.14],[0.002,4.03],[-0.003,3.93],[0.005,3.82],[-0.003,3.72],[0.006,3.61],[-0.003,3.51],[0.002,3.41],[-0.006,3.30],[0.005,3.20],[-0.003,3.09],[0.002,2.99],[-0.006,2.89],[0.005,2.78],[-0.003,2.68],[0.005,2.57],[-0.003,2.47],[0.002,2.36],[0.000,2.28],[0.001,3.45],[0.003,3.15],[-0.001,2.85],[0.002,2.62],[0.017,3.98],[0.012,3.64],[0.025,3.61],[-0.016,3.41],[-0.011,3.22],[0.047,3.15],[0.067,2.83],[0.051,2.78],[0.036,2.76],[-0.016,2.73],[-0.019,2.94],[-0.016,2.57],[0.022,2.70],[0.150,2.36],[0.009,2.26],[0.017,2.16],[0.028,2.10],[0.036,2.03],[0.044,1.97],[0.025,1.97],[-0.026,2.03],[-0.022,1.95],[-0.034,1.95],[-0.011,1.90],[-0.003,1.82],[0.009,1.82],[-0.042,1.79],[-0.034,1.69],[-0.069,1.69],[-0.008,1.72],[0.005,1.72],[0.075,2.05],[0.106,2.20],[0.059,1.69],[0.075,1.64],[0.090,1.72],[0.101,1.58],[0.129,1.51],[0.146,1.45],[0.145,1.17],[0.340,1.11]];
const r7c2Band = [[0.004,4.20],[-0.007,4.08],[0.007,3.98],[-0.008,3.88],[0.008,3.76],[-0.008,3.66],[0.009,3.54],[-0.008,3.46],[0.008,3.36],[-0.009,3.25],[0.009,3.12],[-0.008,3.04],[0.008,2.94],[-0.009,2.82],[0.008,2.72],[-0.008,2.62],[0.009,2.52],[-0.007,2.42],[0.007,2.33],[-0.004,2.22]];
const r7c2Lloq = [-0.009,0.069,0.137,0.171,0.181,0.192,0.321];
const r7c3 = [[-0.002,4.38],[-0.003,4.24],[-0.005,4.14],[-0.002,4.03],[-0.003,3.93],[0.000,3.82],[-0.003,3.72],[0.002,3.61],[-0.002,3.51],[0.000,3.41],[-0.003,3.30],[0.002,3.20],[0.003,3.09],[0.000,2.99],[0.002,2.89],[0.006,2.78],[0.000,2.68],[0.009,2.57],[0.003,2.47],[0.012,2.36],[0.006,2.26],[0.001,3.00],[0.004,2.75],[0.002,2.55],[0.007,2.45],[0.004,3.50],[-0.025,3.20],[-0.019,3.01],[-0.014,2.83],[-0.012,2.63],[-0.006,2.52],[-0.009,2.42],[-0.006,2.31],[0.017,2.78],[0.033,2.73],[0.037,2.52],[0.044,2.36],[0.033,2.26],[0.048,2.24],[0.012,2.16],[0.022,2.10],[0.033,2.05],[0.006,2.05],[-0.014,2.00],[-0.025,1.95],[-0.037,1.90],[-0.034,2.00],[-0.045,1.79],[-0.025,1.82],[-0.006,1.76],[0.012,1.76],[0.025,1.79],[0.040,1.82],[0.056,1.74],[0.069,1.64],[0.087,1.72],[0.103,1.79],[0.072,2.05],[0.079,2.00],[0.087,1.95],[0.098,2.61],[0.150,3.01],[0.146,2.31],[0.173,2.05],[0.184,2.00],[0.193,2.00],[0.137,1.95],[0.321,2.16],[0.340,1.45],[0.103,1.53],[-0.069,1.64],[-0.056,1.66],[-0.045,1.66],[0.009,1.90],[0.064,1.43],[0.107,1.30],[0.131,1.30],[0.146,1.43]];
const r7c3Band = [[0.003,4.30],[-0.007,4.20],[0.003,4.08],[-0.006,3.98],[0.004,3.88],[-0.007,3.77],[0.005,3.66],[-0.006,3.56],[0.005,3.46],[-0.005,3.36],[0.006,3.25],[-0.005,3.14],[0.007,3.04],[-0.004,2.94],[0.008,2.84],[-0.004,2.73],[0.011,2.62],[-0.003,2.58],[0.013,2.50],[0.000,2.40],[0.015,2.32],[0.003,2.20],[0.014,2.20]];
const r7c3Lloq = [-0.006];
const r7c4 = [[0.000,4.11],[-0.005,3.80],[0.000,3.77],[0.048,3.72],[0.000,3.56],[-0.002,3.41],[0.002,3.30],[-0.003,3.20],[0.000,3.09],[-0.002,2.99],[0.003,2.89],[-0.006,2.78],[0.000,2.68],[-0.003,2.57],[0.006,2.47],[0.000,2.39],[0.009,2.31],[0.003,2.24],[0.012,2.16],[0.006,2.07],[0.016,2.00],[0.002,2.62],[-0.001,2.52],[0.005,2.35],[0.008,2.20],[0.045,2.97],[0.076,2.78],[-0.017,2.83],[-0.012,2.63],[-0.022,2.57],[0.022,2.59],[0.037,2.52],[0.050,2.47],[0.061,2.42],[0.069,2.45],[0.030,2.34],[0.022,2.26],[0.034,2.24],[0.097,2.18],[0.107,2.16],[0.087,2.10],[-0.009,2.05],[-0.017,2.10],[0.022,2.00],[0.034,2.03],[0.065,1.95],[0.069,1.79],[0.092,1.82],[0.107,1.95],[0.146,2.03],[0.150,1.99],[-0.012,1.79],[-0.002,1.76],[0.025,1.79],[-0.025,1.66],[-0.033,1.64],[0.050,1.48],[0.131,1.69],[-0.069,1.34],[-0.040,1.38],[-0.033,1.32],[-0.017,1.30],[-0.012,1.24],[0.146,1.38],[0.139,1.20],[0.174,1.45],[0.185,1.15],[0.196,1.15],[0.326,1.58],[0.341,1.51]];
const r7c4Band = [[0.004,4.00],[-0.006,3.70],[0.004,3.50],[-0.006,3.35],[0.005,3.25],[-0.007,3.15],[0.005,3.04],[-0.007,2.94],[0.007,2.84],[-0.008,2.72],[0.008,2.64],[-0.007,2.48],[0.010,2.42],[-0.005,2.33],[0.013,2.28],[-0.003,2.18],[0.016,2.12],[0.002,2.02],[0.019,2.06],[0.010,1.95]];
const r7c4Lloq = [];

// ---- Row 8: Vaccine, M, 12-14 ----
const r8c1 = [[-0.004,4.15],[-0.002,4.07],[-0.006,3.86],[-0.004,3.76],[-0.001,3.66],[-0.007,3.55],[-0.004,3.45],[0.000,3.34],[-0.006,3.24],[-0.002,3.14],[0.001,3.03],[-0.007,2.93],[-0.004,2.82],[0.000,2.72],[-0.006,2.61],[-0.002,2.51],[0.001,2.41],[0.003,2.30],[0.000,2.20],[0.005,2.09],[0.003,1.99],[0.007,1.89],[0.009,1.78],[0.012,1.68],[0.016,1.60],[0.019,1.54],[0.023,1.57],[0.009,3.89],[-0.013,2.61],[-0.016,2.72],[0.014,2.72],[0.016,2.25],[0.023,2.27],[-0.007,2.30],[-0.020,2.28],[-0.018,1.99],[0.030,1.68],[0.023,1.85],[0.037,1.65],[0.048,1.63],[0.052,1.60],[0.059,2.32],[0.055,2.02],[0.052,1.94],[-0.040,1.71],[-0.034,1.50],[-0.027,1.31],[-0.024,1.31],[-0.016,1.42],[-0.004,1.13],[0.005,1.13],[0.046,1.40],[0.048,1.24],[0.146,1.39],[0.003,3.50],[-0.003,3.20],[0.002,2.90],[0.005,2.60],[-0.002,3.70],[0.004,2.45],[0.010,2.00],[0.008,2.15]];
const r8c1Band = [[0.005,4.10],[-0.009,3.95],[0.004,3.80],[-0.010,3.60],[0.004,3.55],[-0.010,3.40],[0.005,3.30],[-0.009,3.08],[0.006,2.98],[-0.010,2.86],[0.006,2.78],[-0.009,2.66],[0.007,2.56],[-0.007,2.46],[0.008,2.36],[-0.005,2.22],[0.010,2.14],[-0.003,2.04],[0.012,1.94],[0.004,1.84],[0.015,1.74],[0.010,1.64],[0.020,1.62]];
const r8c1Lloq = [-0.011,-0.007,-0.004,0.001,0.004,0.064,0.080];
const r8c2 = [[0.000,4.34],[-0.003,4.22],[0.002,4.10],[-0.004,3.98],[0.003,3.88],[-0.002,3.78],[0.004,3.68],[-0.005,3.58],[0.001,3.48],[-0.003,3.38],[0.005,3.28],[-0.004,3.18],[0.002,3.08],[-0.006,2.98],[0.004,2.88],[-0.002,2.78],[0.006,2.68],[-0.004,2.58],[0.002,2.48],[-0.006,2.38],[0.005,2.28],[0.000,2.18],[0.008,2.08],[0.004,1.98],[0.010,1.88],[-0.008,2.70],[0.007,3.00],[-0.007,3.30],[0.008,2.40],[-0.009,2.10],[0.027,3.64],[0.030,3.10],[0.020,2.95],[0.031,2.30],[0.042,1.99],[0.057,1.67],[0.070,1.51],[0.080,1.67],[0.020,1.67],[0.140,1.51],[-0.045,1.99],[-0.030,1.67],[-0.019,1.51],[-0.012,1.35],[-0.015,2.45],[0.015,2.60],[0.022,2.15],[0.035,1.85],[-0.025,2.25],[0.012,1.45],[0.050,1.30],[-0.020,1.80]];
const r8c2Band = [[0.006,4.15],[-0.008,3.92],[0.008,3.74],[-0.009,3.52],[0.009,3.40],[-0.010,3.12],[0.010,2.94],[-0.011,2.84],[0.011,2.74],[-0.010,2.52],[0.012,2.34],[-0.008,2.24],[0.014,2.14],[-0.004,1.95],[0.016,1.92]];
const r8c2Lloq = [0.060,0.147];
const r8c3 = [[-0.003,4.20],[0.000,4.10],[-0.004,3.98],[0.002,3.86],[-0.002,3.74],[0.003,3.62],[-0.005,3.50],[0.001,3.38],[-0.003,3.26],[0.004,3.14],[-0.002,3.02],[0.006,2.90],[0.000,2.78],[0.008,2.66],[0.004,2.54],[0.010,2.42],[0.006,2.30],[0.012,2.18],[0.008,2.06],[0.014,1.95],[-0.006,2.70],[0.003,2.40],[-0.004,3.10],[0.006,2.20],[0.140,2.60],[0.076,2.46],[0.060,2.30],[0.050,2.00],[0.040,1.95],[0.030,2.10],[0.070,1.90],[-0.044,1.99],[-0.030,1.95],[-0.018,2.00],[-0.015,2.40],[0.025,2.60],[0.020,1.80],[0.030,1.70],[0.045,2.20]];
const r8c3Band = [[0.005,4.02],[-0.008,3.80],[0.007,3.56],[-0.009,3.32],[0.008,3.20],[-0.008,2.96],[0.010,2.84],[-0.007,2.60],[0.012,2.50],[-0.005,2.32],[0.015,2.26],[0.000,2.10],[0.018,2.02]];
const r8c3Lloq = [-0.016];
const r8c4 = [[-0.003,4.10],[0.000,3.60],[-0.002,3.45],[0.002,3.30],[-0.004,3.18],[0.003,3.06],[-0.002,2.94],[0.004,2.82],[-0.005,2.70],[0.001,2.60],[-0.003,2.50],[0.005,2.40],[-0.002,2.30],[0.006,2.20],[0.000,2.10],[0.008,2.00],[0.004,1.90],[-0.006,2.35],[0.007,2.55],[-0.007,2.05],[0.045,2.60],[0.055,2.60],[0.040,2.20],[0.030,2.05],[0.025,1.90],[0.050,1.80],[0.070,1.75],[0.040,1.60],[0.090,1.45],[-0.020,1.80],[-0.030,2.00],[-0.043,1.99],[-0.035,1.90],[0.020,2.30],[-0.015,2.50],[0.015,1.70],[0.030,2.45]];
const r8c4Band = [[0.006,3.38],[-0.008,3.12],[0.008,3.00],[-0.009,2.76],[0.009,2.66],[-0.010,2.44],[0.011,2.34],[-0.009,2.24],[0.012,2.16],[-0.006,2.12],[0.014,1.96],[0.010,1.86]];
const r8c4Lloq = [-0.010,0.030,0.045];

const noBand = [];
const panelPoints = [r1c1,r1c2,r1c3,r1c4,r2c1,r2c2,r2c3,r2c4,r3c1,r3c2,r3c3,r3c4,r4c1,r4c2,r4c3,r4c4,r5c1,r5c2,r5c3,r5c4,r6c1,r6c2,r6c3,r6c4,r7c1,r7c2,r7c3,r7c4,r8c1,r8c2,r8c3,r8c4];
const panelBand = [noBand,noBand,noBand,noBand,noBand,noBand,noBand,noBand,noBand,noBand,noBand,noBand,noBand,noBand,noBand,noBand,r5c1Band,r5c2Band,r5c3Band,r5c4Band,r6c1Band,r6c2Band,r6c3Band,r6c4Band,r7c1Band,r7c2Band,r7c3Band,r7c4Band,r8c1Band,r8c2Band,r8c3Band,r8c4Band];
const panelLloq = [r1c1Lloq,r1c2Lloq,r1c3Lloq,r1c4Lloq,r2c1Lloq,r2c2Lloq,r2c3Lloq,r2c4Lloq,r3c1Lloq,r3c2Lloq,r3c3Lloq,r3c4Lloq,r4c1Lloq,r4c2Lloq,r4c3Lloq,r4c4Lloq,r5c1Lloq,r5c2Lloq,r5c3Lloq,r5c4Lloq,r6c1Lloq,r6c2Lloq,r6c3Lloq,r6c4Lloq,r7c1Lloq,r7c2Lloq,r7c3Lloq,r7c4Lloq,r8c1Lloq,r8c2Lloq,r8c3Lloq,r8c4Lloq];

// ---- layout ----
const LEFT = 70.7, COLP = 285, PW = 274, TOP = 39.3, ROWP = 185.96, STRIPH = 30.7, PH = 144.3;
const svg = d3.select("#chart");
const x = d3.scaleLinear().domain(xDomain).range([0, PW]);
const y = d3.scaleLinear().domain(yDomain).range([PH, 0]);

svg.append("text").attr("x", 634).attr("y", 21.5).attr("text-anchor","middle")
  .attr("font-size", 20.5).attr("fill","#000").text(titleText);

for (let r = 0; r < 8; r++) {
  for (let c = 0; c < 4; c++) {
    const i = r * 4 + c;
    const g = svg.append("g").attr("transform", `translate(${LEFT + c*COLP},${TOP + r*ROWP})`);
    g.append("rect").attr("width", PW).attr("height", STRIPH).attr("fill", "#D9D9D9")
      .attr("stroke", "#333333").attr("stroke-width", 1.07);
    g.append("text").attr("x", PW/2).attr("y", 20.9).attr("text-anchor","middle")
      .attr("font-size", 15).attr("fill", "#1A1A1A").text(`${groupLabels[r]}, ${typeLabels[c]}`);
    const p = g.append("g").attr("transform", `translate(0,${STRIPH})`);
    p.append("rect").attr("width", PW).attr("height", PH).attr("fill", "#fff");
    p.selectAll("line.xmin").data(xMinor).join("line").attr("x1", d=>x(d)).attr("x2", d=>x(d))
      .attr("y1", 0).attr("y2", PH).attr("stroke", "#EBEBEB").attr("stroke-width", 0.6);
    p.selectAll("line.ymin").data(yMinor).join("line").attr("y1", d=>y(d)).attr("y2", d=>y(d))
      .attr("x1", 0).attr("x2", PW).attr("stroke", "#EBEBEB").attr("stroke-width", 0.6);
    p.selectAll("line.xmaj").data(xTicks).join("line").attr("x1", d=>x(d)).attr("x2", d=>x(d))
      .attr("y1", 0).attr("y2", PH).attr("stroke", "#EBEBEB").attr("stroke-width", 1.2);
    p.selectAll("line.ymaj").data(yTicks).join("line").attr("y1", d=>y(d)).attr("y2", d=>y(d))
      .attr("x1", 0).attr("x2", PW).attr("stroke", "#EBEBEB").attr("stroke-width", 1.2);
    const pts = panelPoints[i].concat(panelBand[i], panelLloq[i].map(v => [v, lloq]));
    p.selectAll("circle").data(pts).join("circle")
      .attr("cx", d => x(d[0])).attr("cy", d => y(d[1])).attr("r", 1.55).attr("fill", "#000");
    p.append("rect").attr("width", PW).attr("height", PH).attr("fill", "none")
      .attr("stroke", "#333333").attr("stroke-width", 1.07);
    if (c === 0) {
      const ax = p.append("g").call(d3.axisLeft(y).tickValues(yTicks).tickSize(4).tickFormat(d3.format("d")));
      ax.select(".domain").remove();
      ax.selectAll(".tick line").attr("stroke", "#333333").attr("stroke-width", 1.07);
      ax.selectAll(".tick text").attr("x", null).attr("dy", null).attr("text-anchor", "middle")
        .attr("transform", "translate(-10,0) rotate(-90)")
        .attr("font-size", 20.5).attr("fill", "#4D4D4D");
    }
    if (r === 7) {
      const ax = p.append("g").attr("transform", `translate(0,${PH})`)
        .call(d3.axisBottom(x).tickValues(xTicks).tickSize(4).tickFormat(d3.format(".1f")));
      ax.select(".domain").remove();
      ax.selectAll(".tick line").attr("stroke", "#333333").attr("stroke-width", 1.07);
      ax.selectAll(".tick text").attr("y", null).attr("dy", "0.35em").attr("text-anchor", "end")
        .attr("transform", "translate(0,8) rotate(-90)")
        .attr("font-size", 20.5).attr("fill", "#4D4D4D");
    }
  }
}
svg.selectAll("g[font-family]").attr("font-family", null);
svg.selectAll("g[font-size]").attr("font-size", null);

// axis titles
svg.append("text").attr("x", 636).attr("y", 1590).attr("text-anchor", "middle")
  .attr("font-size", 22.5).attr("fill", "#000").style("white-space", "pre").text(xTitleText);
const yt = svg.append("text").attr("transform", "translate(30,795) rotate(-90)")
  .attr("text-anchor", "middle").attr("font-size", 22.5).attr("fill", "#000");
yt.append("tspan").text("Log");
yt.append("tspan").attr("font-size", 15.5).attr("dy", 5).text("10");
yt.append("tspan").attr("dy", -5).text(" Month 13 PRNT");
yt.append("tspan").attr("font-size", 15.5).attr("dy", 5).text("50");
yt.append("tspan").attr("dy", -5).text(" Titer");
</script></body></html>
